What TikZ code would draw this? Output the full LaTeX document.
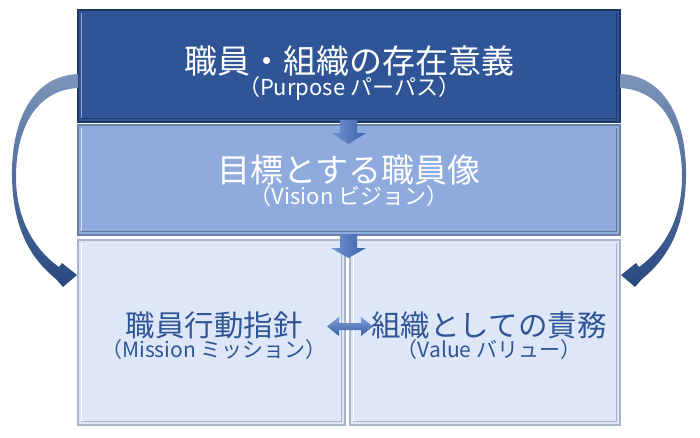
\documentclass[tikz,border=0pt]{standalone}
\usepackage{fontspec}
\setmainfont{Noto Sans CJK JP}
\usetikzlibrary{positioning}
\definecolor{mvvnavy}{RGB}{47,85,151}
\definecolor{mvvdeep}{RGB}{32,56,100}
\definecolor{mvvsky}{RGB}{143,170,220}
\definecolor{mvvpale}{RGB}{222,231,248}
\definecolor{mvvgray}{RGB}{170,180,196}
\definecolor{mvvarrow}{RGB}{68,114,196}
\definecolor{mvvfade}{RGB}{125,148,186}
\newcommand\jpsize[1]{\fontsize{#1}{#1}\selectfont}
\tikzset{
  tierbox/.style={rectangle, line width=1.2pt, inner sep=0pt},
  bigtitle/.style={inner sep=0pt, font=\jpsize{33}},
  subtitle/.style={inner sep=0pt, font=\jpsize{22}},
  midtitle/.style={inner sep=0pt, font=\jpsize{29.5}, text=mvvnavy},
  midsub/.style={inner sep=0pt, font=\jpsize{21}, text=mvvnavy},
  blockarrow/.style={left color=mvvarrow!75!white, right color=mvvarrow!85!black},
  bothway/.style={top color=mvvarrow!70!white, bottom color=mvvarrow!85!black}
}

\begin{document}
\begin{tikzpicture}[x=1pt,y=-1pt]
  \useasboundingbox (0,0) rectangle (700,437);
  \fill[white] (0,0) rectangle (700,437);
  % four boxes
  \node[tierbox, fill=mvvnavy, draw=mvvdeep, minimum width=542pt, minimum height=112pt] (purpose) at (349,66) {};
  \node[tierbox, fill=mvvsky, draw=mvvsky!75!black, minimum width=542pt, minimum height=110pt] (vision) at (349,180) {};
  \node[tierbox, fill=mvvpale, draw=mvvgray, minimum width=267pt, minimum height=185pt] (mission) at (211.5,332.5) {};
  \node[tierbox, fill=mvvpale, draw=mvvgray, minimum width=270pt, minimum height=185pt] (value) at (485,332.5) {};
  % bevel edges
  \foreach \b/\hi/\lo in {purpose/mvvsky/mvvdeep, vision/white!70!mvvsky/mvvsky!70!black,
      mission/white/mvvgray, value/white/mvvgray}{
    \draw[\hi, line width=1.5pt] ([xshift=4pt,yshift=-4pt]\b.north west) -- ([xshift=4pt,yshift=4pt]\b.south west);
    \draw[\lo, line width=1.5pt] ([xshift=4pt,yshift=4pt]\b.south west) -- ([xshift=-4pt,yshift=4pt]\b.south east)
      -- ([xshift=-4pt,yshift=-4pt]\b.north east);
  }
  % texts
  \node[bigtitle, text=white] (ptitle) at (349,61) {職員・組織の存在意義};
  \node[subtitle, text=white] (psub) at (349,89) {（Purpose パーパス）};
  \node[bigtitle, text=white] (vtitle) at (349,170) {目標とする職員像};
  \node[subtitle, text=white] (vsub) at (349,196) {（Vision ビジョン）};
  \node[midtitle] (mtitle) at (214,325) {職員行動指針};
  \node[midsub] (msub) at (214,350) {（Mission ミッション）};
  \node[midtitle] (wtitle) at (489,325) {組織としての責務};
  \node[midsub] (wsub) at (489,350) {（Value バリュー）};
  % block arrows
  \shade[blockarrow] (340,120) -- (357,120) -- (357,133) -- (366,133) -- (348.5,144)
    -- (331,133) -- (340,133) -- cycle;
  \shade[blockarrow] (340,234) -- (357,234) -- (357,248) -- (366,248) -- (348.5,258)
    -- (331,248) -- (340,248) -- cycle;
  \shade[bothway] (327,326.5) -- (339,317) -- (339,323) -- (361,323) -- (361,317) -- (373,326.5)
    -- (361,336) -- (361,330) -- (339,330) -- (339,336) -- cycle;
  % curved side arrows
  \foreach \mirror in {1,-1}{
    \begin{scope}[shift={(349,0)}, xscale=\mirror, shift={(-349,0)}]
      \shade[top color=mvvfade, bottom color=mvvnavy!85!black]
        (78,74) .. controls (30,76) and (11,125) .. (12,177)
        .. controls (13,228) and (30,258) .. (56,279)
        -- (63,287) -- (77,275) -- (62,263) -- (59,267)
        .. controls (35,250) and (16,220) .. (16,177)
        .. controls (16,130) and (35,90) .. (78,88) -- cycle;
    \end{scope}
  }
\end{tikzpicture}
\end{document}
